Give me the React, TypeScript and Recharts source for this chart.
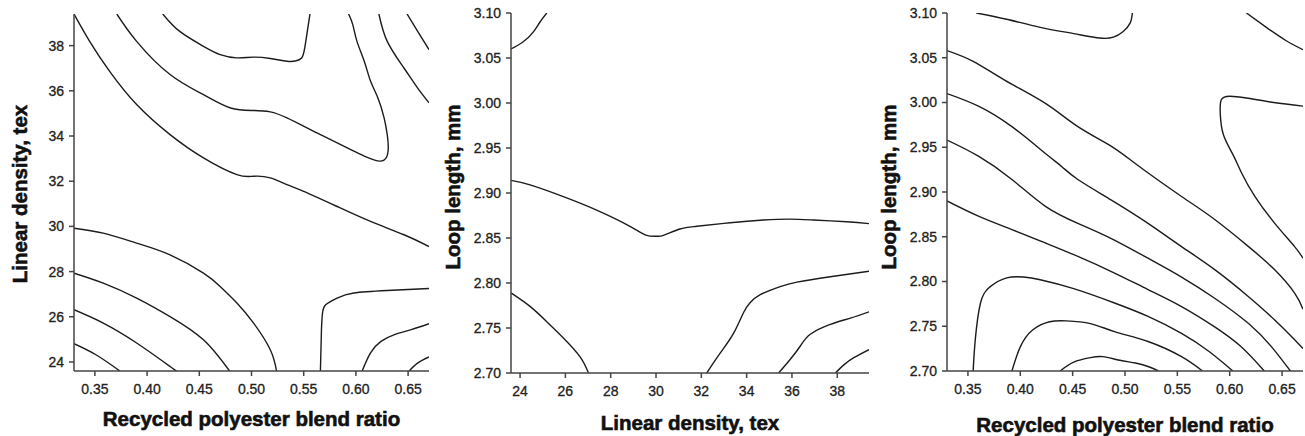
import { LineChart, Line, XAxis, YAxis } from 'recharts'

type Pt = [number, number]

const blendTicks = [0.35, 0.4, 0.45, 0.5, 0.55, 0.6, 0.65]
const texTicks = [24, 26, 28, 30, 32, 34, 36, 38]
const loopTicks = [2.7, 2.75, 2.8, 2.85, 2.9, 2.95, 3.0, 3.05, 3.1]

const blendDomain: [number, number] = [0.33, 0.67]
const texDomain: [number, number] = [23.6, 39.4]
const loopDomain: [number, number] = [2.7, 3.1]

// panel 1 contours: blend ratio (x) vs linear density (y)
const blendTexLines: Pt[][] = [
  [[0.33, 39.4], [0.345, 38.19], [0.364, 36.87], [0.39, 35.39], [0.422, 34.06], [0.454, 33.03], [0.486, 32.29], [0.502, 32.22], [0.518, 32.15], [0.534, 31.85], [0.55, 31.55], [0.582, 30.88], [0.614, 30.22], [0.646, 29.63], [0.67, 29.11]],
  [[0.371, 39.4], [0.39, 38.19], [0.422, 36.72], [0.454, 35.83], [0.48, 35.24], [0.502, 35.13], [0.518, 35.07], [0.534, 34.8], [0.566, 34.06], [0.598, 33.33], [0.608, 33.11], [0.618, 32.93], [0.624, 32.89], [0.629, 33.03], [0.631, 33.48], [0.63, 34.06], [0.627, 34.8], [0.621, 35.69], [0.614, 36.43], [0.608, 37.31], [0.601, 38.19], [0.597, 38.93], [0.593, 39.4]],
  [[0.415, 39.4], [0.431, 38.64], [0.454, 37.97], [0.47, 37.6], [0.486, 37.46], [0.502, 37.49], [0.518, 37.43], [0.534, 37.31], [0.542, 37.32], [0.548, 37.45], [0.551, 37.9], [0.5535, 38.64], [0.556, 39.4]],
  [[0.622, 39.4], [0.63, 38.19], [0.646, 37.01], [0.659, 36.13], [0.67, 35.47]],
  [[0.649, 39.4], [0.659, 38.64], [0.67, 37.82]],
  [[0.33, 29.92], [0.358, 29.7], [0.39, 29.26], [0.422, 28.74], [0.454, 27.93], [0.47, 27.34], [0.486, 26.61], [0.502, 25.72], [0.518, 24.54], [0.524, 23.6]],
  [[0.33, 27.93], [0.358, 27.49], [0.39, 26.83], [0.422, 26.01], [0.454, 24.98], [0.479, 23.6]],
  [[0.33, 26.31], [0.358, 25.72], [0.39, 24.84], [0.422, 23.8], [0.428, 23.6]],
  [[0.33, 24.81], [0.351, 24.32], [0.374, 23.6]],
  [[0.566, 23.6], [0.567, 25.43], [0.568, 26.16], [0.571, 26.53], [0.582, 26.83], [0.598, 27.05], [0.63, 27.16], [0.67, 27.25]],
  [[0.606, 23.6], [0.614, 24.4], [0.624, 24.91], [0.637, 25.21], [0.653, 25.43], [0.67, 25.69]],
  [[0.651, 23.6], [0.659, 23.95], [0.67, 24.22]],
]

// panel 2 contours: linear density (x) vs loop length (y)
const texLoopLines: Pt[][] = [
  [[23.6, 3.06], [24.14, 3.068], [24.59, 3.079], [24.88, 3.09], [25.18, 3.1]],
  [[23.6, 2.914], [24.44, 2.909], [25.91, 2.896], [27.38, 2.881], [28.85, 2.863], [29.59, 2.853], [30.03, 2.852], [30.33, 2.853], [31.06, 2.86], [31.8, 2.863], [33.27, 2.867], [34.74, 2.87], [35.92, 2.871], [36.95, 2.87], [38.42, 2.868], [39.4, 2.866]],
  [[23.6, 2.789], [24.44, 2.774], [25.18, 2.757], [25.91, 2.739], [26.65, 2.718], [27.02, 2.7]],
  [[32.24, 2.7], [32.83, 2.722], [33.42, 2.744], [33.86, 2.767], [34.15, 2.778], [34.6, 2.787], [35.48, 2.796], [36.22, 2.801], [37.69, 2.807], [39.4, 2.813]],
  [[35.41, 2.7], [35.92, 2.715], [36.37, 2.73], [36.81, 2.743], [37.69, 2.754], [38.58, 2.761], [39.4, 2.768]],
  [[37.92, 2.7], [38.29, 2.709], [38.73, 2.717], [39.4, 2.726]],
]

// panel 3 contours: blend ratio (x) vs loop length (y)
const blendLoopLines: Pt[][] = [
  [[0.358, 3.1], [0.387, 3.093], [0.419, 3.084], [0.451, 3.077], [0.476, 3.072], [0.489, 3.073], [0.498, 3.079], [0.505, 3.089], [0.507, 3.1]],
  [[0.616, 3.1], [0.635, 3.084], [0.654, 3.069], [0.67, 3.059]],
  [[0.67, 2.996], [0.642, 3.0], [0.616, 3.005], [0.6, 3.007], [0.592, 3.003], [0.591, 2.987], [0.594, 2.964], [0.603, 2.942], [0.611, 2.922], [0.624, 2.895], [0.643, 2.865], [0.662, 2.839], [0.67, 2.826]],
  [[0.33, 3.058], [0.355, 3.046], [0.385, 3.025], [0.424, 2.999], [0.455, 2.973], [0.487, 2.951], [0.513, 2.929], [0.554, 2.895], [0.586, 2.869], [0.618, 2.839], [0.643, 2.813], [0.662, 2.787], [0.67, 2.769]],
  [[0.33, 3.01], [0.36, 2.996], [0.392, 2.973], [0.424, 2.943], [0.44, 2.928], [0.455, 2.914], [0.487, 2.891], [0.522, 2.865], [0.554, 2.839], [0.586, 2.813], [0.618, 2.783], [0.643, 2.757], [0.662, 2.735], [0.67, 2.725]],
  [[0.33, 2.958], [0.36, 2.94], [0.392, 2.914], [0.424, 2.884], [0.455, 2.865], [0.487, 2.848], [0.522, 2.826], [0.554, 2.805], [0.586, 2.781], [0.618, 2.753], [0.64, 2.727], [0.658, 2.7]],
  [[0.33, 2.89], [0.36, 2.873], [0.392, 2.858], [0.424, 2.843], [0.455, 2.828], [0.489, 2.81], [0.522, 2.791], [0.554, 2.772], [0.586, 2.749], [0.611, 2.727], [0.633, 2.7]],
  [[0.355, 2.7], [0.357, 2.735], [0.362, 2.776], [0.371, 2.794], [0.387, 2.804], [0.403, 2.805], [0.419, 2.802], [0.451, 2.792], [0.49, 2.776], [0.522, 2.761], [0.554, 2.742], [0.58, 2.722], [0.603, 2.7]],
  [[0.392, 2.7], [0.4, 2.727], [0.412, 2.746], [0.428, 2.755], [0.444, 2.756], [0.467, 2.753], [0.49, 2.744], [0.522, 2.733], [0.554, 2.716], [0.574, 2.7]],
  [[0.438, 2.7], [0.451, 2.71], [0.467, 2.715], [0.479, 2.716], [0.495, 2.712], [0.51, 2.709], [0.522, 2.705], [0.532, 2.7]],
]

const font = '"Liberation Sans", Arial, Helvetica, sans-serif'
const frameColor = '#444'
const lineColor = '#1c1c1c'
const tickStyle = { fontSize: 14, fill: '#222', fontFamily: font, stroke: '#222', strokeWidth: 0.3 }

const fmt2 = (v: number) => v.toFixed(2)
const fmt0 = (v: number) => String(v)

interface PanelProps {
  left: number
  margin: { top: number; right: number; bottom: number; left: number }
  yWidth: number
  xDomain: [number, number]
  yDomain: [number, number]
  xTicks: number[]
  yTicks: number[]
  xFmt: (v: number) => string
  yFmt: (v: number) => string
  lines: Pt[][]
  xTitle: string
  yTitle: string
  xTitleBase: number
  yTitleBase: number
  yTitleMid: number
}

const titleProps = {
  fontFamily: font,
  fontWeight: 'bold' as const,
  fontSize: 20.5,
  fill: '#111',
  stroke: '#111',
  strokeWidth: 0.6,
}

function ContourPanel(p: PanelProps) {
  const xLabel = (props: any) => {
    const vb = props.viewBox
    return (
      <text x={vb.x + vb.width / 2} y={p.xTitleBase} textAnchor="middle" {...titleProps}>
        {p.xTitle}
      </text>
    )
  }
  const yLabel = () => (
    <text
      x={p.yTitleBase}
      y={p.yTitleMid}
      transform={`rotate(-90, ${p.yTitleBase}, ${p.yTitleMid})`}
      textAnchor="middle"
      {...titleProps}
    >
      {p.yTitle}
    </text>
  )

  return (
    <div style={{ position: 'absolute', left: p.left, top: 0 }}>
      <LineChart width={435} height={436} margin={p.margin}>
        <XAxis
          type="number"
          dataKey="x"
          domain={p.xDomain}
          ticks={p.xTicks}
          tickFormatter={p.xFmt}
          interval={0}
          allowDataOverflow
          height={30}
          tick={tickStyle}
          tickSize={5}
          tickMargin={8}
          stroke={frameColor}
          strokeWidth={1.5}
          label={{ content: xLabel }}
        />
        <XAxis xAxisId="top" orientation="top" type="number" domain={p.xDomain} allowDataOverflow height={0} tick={false} tickLine={false} stroke={frameColor} strokeWidth={1.5} />
        <YAxis
          type="number"
          domain={p.yDomain}
          ticks={p.yTicks}
          tickFormatter={p.yFmt}
          interval={0}
          allowDataOverflow
          width={p.yWidth}
          tick={tickStyle}
          tickSize={5}
          tickMargin={5}
          stroke={frameColor}
          strokeWidth={1.5}
          label={{ content: yLabel }}
        />
        <YAxis yAxisId="right" orientation="right" type="number" domain={p.yDomain} allowDataOverflow width={0} tick={false} tickLine={false} stroke={frameColor} strokeWidth={1.5} />
        {p.lines.map((pts, i) => (
          <Line
            key={i}
            data={pts.map(([x, y]) => ({ x, y }))}
            dataKey="y"
            type="natural"
            stroke={lineColor}
            strokeWidth={1.4}
            dot={false}
            activeDot={false}
            isAnimationActive={false}
          />
        ))}
      </LineChart>
    </div>
  )
}

export default function App() {
  return (
    <div style={{ position: 'absolute', left: 0, top: 0, width: 1305, height: 436, background: '#fff' }}>
      <ContourPanel
        left={0}
        margin={{ top: 14, right: 6, bottom: 35, left: 0 }}
        yWidth={74}
        xDomain={blendDomain}
        yDomain={texDomain}
        xTicks={blendTicks}
        yTicks={texTicks}
        xFmt={fmt2}
        yFmt={fmt0}
        lines={blendTexLines}
        xTitle="Recycled polyester blend ratio"
        yTitle="Linear density, tex"
        xTitleBase={426}
        yTitleBase={27}
        yTitleMid={194}
      />
      <ContourPanel
        left={435}
        margin={{ top: 13, right: 1, bottom: 33, left: 0 }}
        yWidth={76}
        xDomain={texDomain}
        yDomain={loopDomain}
        xTicks={texTicks}
        yTicks={loopTicks}
        xFmt={fmt0}
        yFmt={fmt2}
        lines={texLoopLines}
        xTitle="Linear density, tex"
        yTitle="Loop length, mm"
        xTitleBase={430}
        yTitleBase={25}
        yTitleMid={187}
      />
      <ContourPanel
        left={870}
        margin={{ top: 13, right: 2, bottom: 35, left: 0 }}
        yWidth={77}
        xDomain={blendDomain}
        yDomain={loopDomain}
        xTicks={blendTicks}
        yTicks={loopTicks}
        xFmt={fmt2}
        yFmt={fmt2}
        lines={blendLoopLines}
        xTitle="Recycled polyester blend ratio"
        yTitle="Loop length, mm"
        xTitleBase={432}
        yTitleBase={26}
        yTitleMid={187}
      />
    </div>
  )
}
